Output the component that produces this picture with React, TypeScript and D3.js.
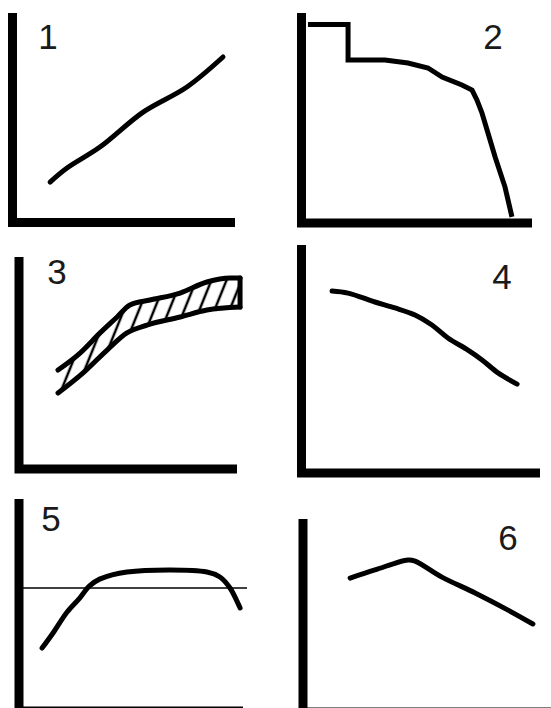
import React from "react";
import * as d3 from "d3";

const labels = ["1", "2", "3", "4", "5", "6"];

const line1: [number, number][] = [
  [16.9, 19.3], [24.5, 26.0], [39.3, 36.0], [58.7, 52.7], [78.4, 64.7], [94.6, 79.0],
];

const step2: [number, number][] = [
  [2.8, 94.5], [20.2, 94.5], [20.2, 77.6], [36.2, 77.6], [46.2, 76.2], [54.9, 73.8],
  [61.0, 69.5], [69.6, 65.7], [74.0, 63.3], [76.1, 58.6], [78.3, 52.4], [80.9, 42.9],
  [84.0, 31.4], [88.3, 17.1], [91.3, 2.9],
];

const band3Upper: [number, number][] = [
  [17.9, 46.7], [28.0, 54.7], [37.2, 64.2], [45.0, 71.7], [50.9, 77.4], [60.1, 79.7],
  [73.9, 83.0], [86.2, 88.2], [96.8, 90.1], [101.4, 90.1],
];
const band3Lower: [number, number][] = [
  [17.9, 35.8], [29.4, 45.3], [40.4, 56.1], [49.5, 64.2], [58.7, 67.9], [73.9, 71.7],
  [86.2, 75.0], [101.4, 76.4],
];

const line4: [number, number][] = [
  [12.8, 79.8], [19.5, 78.9], [30.8, 75.0], [39.2, 72.4], [47.6, 69.3], [54.7, 64.9],
  [61.4, 59.2], [69.8, 53.9], [75.7, 49.6], [82.4, 43.9], [90.4, 39.0],
];

const curve5: [number, number][] = [
  [10.3, 29.7], [15.2, 36.8], [21.4, 46.6], [27.2, 53.4], [31.5, 59.0], [36.0, 62.2],
  [48.2, 65.6], [83.9, 65.6], [89.7, 63.2], [94.2, 58.0], [98.7, 48.6],
];
const ref5 = 58.0;
const ref5Span = [0, 101.8];

const line6: [number, number][] = [
  [19.0, 69.4], [29.0, 73.6], [42.3, 78.8], [45.2, 78.2], [56.0, 69.9], [69.4, 61.7],
  [82.7, 52.8], [92.7, 45.6],
];

// panel frames: y-axis x, x-axis y, right end, top end, label spot
const frames = [
  { x0: 12.5, x1: 235, y0: 222.5, y1: 13, lx: 48, ly: 49 },
  { x0: 301.5, x1: 532, y0: 223, y1: 13, lx: 493, ly: 49 },
  { x0: 19, x1: 237, y0: 469, y1: 257, lx: 57, ly: 284 },
  { x0: 301.5, x1: 540, y0: 473, y1: 245, lx: 502, ly: 289 },
  { x0: 19, x1: 243, y0: 711, y1: 499, lx: 51, ly: 531 },
  { x0: 303, x1: 551, y0: 712, y1: 519, lx: 508, ly: 550 },
];

const Panel = ({ i, children }: { i: number; children: (x: any, y: any) => React.ReactNode }) => {
  const f = frames[i];
  const x = d3.scaleLinear().domain([0, 100]).range([f.x0, f.x1]);
  const y = d3.scaleLinear().domain([0, 100]).range([f.y0, f.y1]);
  const axis = `M${x(0)},${y(100)}L${x(0)},${y(0)}L${x(100)},${y(0)}`;
  return (
    <g>
      <path d={axis} fill="none" stroke="#000" strokeWidth={9} strokeLinejoin="miter" />
      <text
        x={f.lx}
        y={f.ly}
        textAnchor="middle"
        fontFamily="'Liberation Sans', Arial, sans-serif"
        fontSize={35}
        fill="#1a1a1a"
      >
        {labels[i]}
      </text>
      {children(x, y)}
    </g>
  );
};

const curveLine = (x: any, y: any) =>
  d3.line<[number, number]>().x(d => x(d[0])).y(d => y(d[1]));

const stroke = { fill: "none", stroke: "#000", strokeWidth: 5, strokeLinejoin: "round" as const, strokeLinecap: "round" as const };

export default function App() {
  return (
    <svg
      width={551}
      height={708}
      viewBox="0 0 551 708"
      style={{ position: "absolute", left: 0, top: 0, background: "#fff" }}
    >
      <defs>
        <pattern id="hatch" patternUnits="userSpaceOnUse" width={14} height={14} patternTransform="rotate(22)">
          <line x1={7} y1={0} x2={7} y2={14} stroke="#000" strokeWidth={2.5} />
        </pattern>
      </defs>
      <rect width={551} height={708} fill="#fff" />

      <Panel i={0}>
        {(x, y) => <path d={curveLine(x, y).curve(d3.curveCatmullRom)(line1) ?? ""} {...stroke} />}
      </Panel>

      <Panel i={1}>
        {(x, y) => <path d={curveLine(x, y)(step2) ?? ""} {...stroke} strokeLinecap="butt" strokeLinejoin="miter" />}
      </Panel>

      <Panel i={2}>
        {(x, y) => {
          const lower = d3.scaleLinear().domain(band3Lower.map(d => d[0])).range(band3Lower.map(d => d[1]));
          const area = d3
            .area<[number, number]>()
            .x(d => x(d[0]))
            .y0(d => y(lower(d[0])))
            .y1(d => y(d[1]))
            .curve(d3.curveMonotoneX);
          const line = curveLine(x, y).curve(d3.curveMonotoneX);
          const last = band3Upper[band3Upper.length - 1];
          const lastLow = band3Lower[band3Lower.length - 1];
          return (
            <g>
              <path d={area(band3Upper) ?? ""} fill="url(#hatch)" />
              <path d={line(band3Upper) ?? ""} {...stroke} />
              <path d={line(band3Lower) ?? ""} {...stroke} />
              <path d={curveLine(x, y)([last, lastLow]) ?? ""} {...stroke} />
            </g>
          );
        }}
      </Panel>

      <Panel i={3}>
        {(x, y) => <path d={curveLine(x, y).curve(d3.curveCatmullRom)(line4) ?? ""} {...stroke} />}
      </Panel>

      <Panel i={4}>
        {(x, y) => (
          <g>
            <line x1={x(ref5Span[0])} x2={x(ref5Span[1])} y1={y(ref5)} y2={y(ref5)} stroke="#000" strokeWidth={1.5} />
            <path d={curveLine(x, y).curve(d3.curveCatmullRom)(curve5) ?? ""} {...stroke} />
          </g>
        )}
      </Panel>

      <Panel i={5}>
        {(x, y) => <path d={curveLine(x, y).curve(d3.curveCatmullRom)(line6) ?? ""} {...stroke} />}
      </Panel>
    </svg>
  );
}
